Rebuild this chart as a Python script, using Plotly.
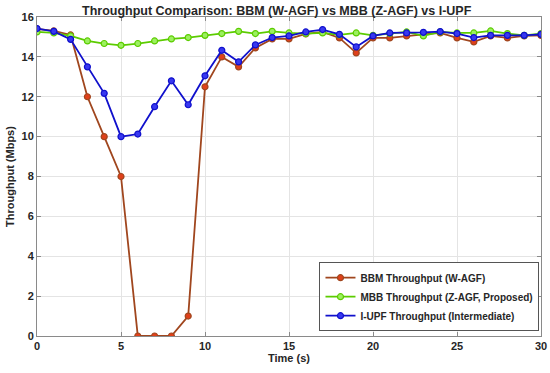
import plotly.graph_objects as go

time_s = list(range(0, 31))
bbm = [15.4, 15.3, 15.1, 12.0, 10.0, 8.0, 0.0, 0.0, 0.0, 1.0, 12.5, 14.0, 13.5, 14.45, 14.9,
       14.9, 15.15, 15.25, 14.95, 14.2, 14.95, 14.95, 15.05, 15.13, 15.2, 14.95, 14.75, 15.05, 14.95, 15.05, 15.08]
mbb = [15.25, 15.2, 15.05, 14.8, 14.67, 14.58, 14.67, 14.8, 14.9, 14.97, 15.08, 15.17, 15.28, 15.17, 15.28,
       15.2, 15.17, 15.2, 15.1, 15.2, 15.08, 15.17, 15.25, 15.05, 15.25, 15.2, 15.2, 15.3, 15.17, 15.08, 15.17]
iupf = [15.42, 15.28, 14.88, 13.5, 12.17, 10.0, 10.13, 11.5, 12.8, 11.6, 13.05, 14.33, 13.75, 14.6, 14.97,
        15.05, 15.25, 15.37, 15.13, 14.5, 15.05, 15.2, 15.2, 15.23, 15.27, 15.17, 14.97, 15.08, 15.08, 15.08, 15.13]

names = ["BBM Throughput (W-AGF)", "MBB Throughput (Z-AGF, Proposed)", "I-UPF Throughput (Intermediate)"]
x_ticks = [0, 5, 10, 15, 20, 25, 30]
y_ticks = [0, 2, 4, 6, 8, 10, 12, 14, 16]

styles = [
    dict(line="#A0461E", face="#E0401A", edge="#A0461E"),
    dict(line="#5CCC00", face="#9CF060", edge="#5CCC00"),
    dict(line="#1010CC", face="#3838F0", edge="#1010CC"),
]

fig = go.Figure()
for name, ys, st in zip(names, [bbm, mbb, iupf], styles):
    fig.add_trace(go.Scatter(
        x=time_s, y=ys, name=name, mode="lines+markers",
        line=dict(color=st["line"], width=1.8),
        marker=dict(size=6, color=st["face"], line=dict(color=st["edge"], width=1.2)),
    ))

FONT = "Liberation Sans, Arial"
axis_common = dict(
    showgrid=True, gridcolor="#E4E4E4", gridwidth=1,
    showline=True, linecolor="#8A8A8A", linewidth=1, mirror="allticks",
    ticks="inside", ticklen=4, tickcolor="#8A8A8A",
    zeroline=False, automargin=False,
    tickfont=dict(family=FONT, size=11, color="#262626", weight="bold"),
)

fig.update_layout(
    width=550, height=373,
    margin=dict(l=37, r=9, t=17, b=37),
    paper_bgcolor="white", plot_bgcolor="white",
    title=dict(text="Throughput Comparison: BBM (W-AGF) vs MBB (Z-AGF) vs I-UPF",
               x=0.503, xanchor="center", y=0.972, yanchor="middle",
               font=dict(family=FONT, size=12.5, color="#262626", weight="bold")),
    xaxis=dict(range=[0, 30], tickvals=x_ticks, ticktext=[str(v) for v in x_ticks],
               title=dict(text="Time (s)", standoff=3,
                          font=dict(family=FONT, size=11, color="#262626", weight="bold")),
               **axis_common),
    yaxis=dict(range=[0, 16], tickvals=y_ticks, ticktext=[str(v) for v in y_ticks],
               title=dict(text="Throughput (Mbps)", standoff=4,
                          font=dict(family=FONT, size=11, color="#262626", weight="bold")),
               **axis_common),
    legend=dict(x=0.997, xanchor="right", y=0.015, yanchor="bottom",
                bgcolor="white", bordercolor="#555555", borderwidth=1,
                font=dict(family=FONT, size=10, color="#262626", weight="bold"),
                tracegroupgap=0, itemwidth=30),
    showlegend=True,
)

fig.write_html("out.html", config={"displayModeBar": False},
               post_script="document.body.style.margin='0';document.body.style.padding='0';")
